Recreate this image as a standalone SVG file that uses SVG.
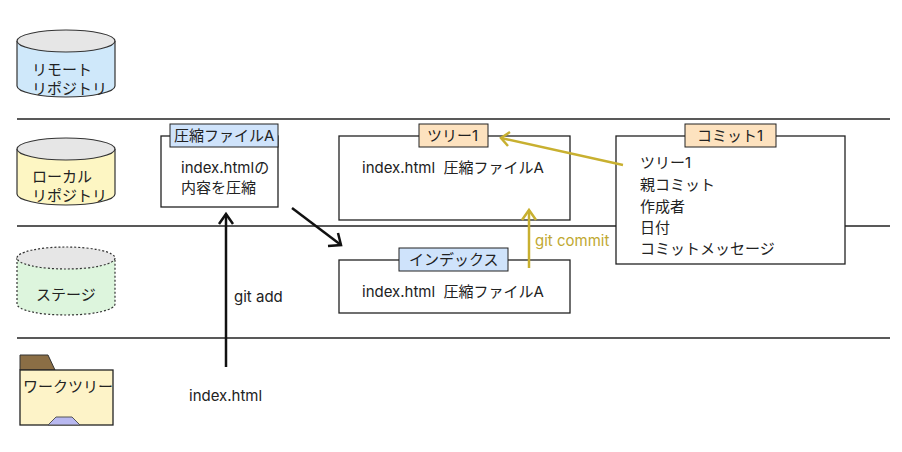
<svg xmlns="http://www.w3.org/2000/svg" width="902" height="452" viewBox="0 0 902 452">
<style>
text{font-family:Inter,"Noto Sans CJK JP",sans-serif;font-size:15px;fill:#222}
.box{fill:#fff;stroke:#222;stroke-width:1.3}
.lane{stroke:#222;stroke-width:1.3}
.blk{stroke:#111;stroke-width:2.5;fill:none}
.yel{stroke:#c8b030;stroke-width:2.5;fill:none}
.cyl{stroke:#333;stroke-width:1.2}
</style>
<rect width="902" height="452" fill="#fff"/>
<g id="lanes">
<line class="lane" x1="17" y1="119" x2="890" y2="119"/>
<line class="lane" x1="17" y1="226" x2="890" y2="226"/>
<line class="lane" x1="17" y1="338" x2="890" y2="338"/>
</g>
<g id="remote">
<path class="cyl" d="M17,41 V86 A49,11 0 0 0 115,86 V41" fill="#cfe8fa"/>
<ellipse class="cyl" cx="66" cy="41" rx="49" ry="11" fill="#e6e6e6"/>
<text x="32" y="75">リモート</text><text x="32" y="94">リポジトリ</text>
</g>
<g id="local">
<path class="cyl" d="M17,149 V194 A49,11 0 0 0 115,194 V149" fill="#fdf6c3"/>
<ellipse class="cyl" cx="66" cy="149" rx="49" ry="11" fill="#e6e6e6"/>
<text x="32" y="182">ローカル</text><text x="32" y="201">リポジトリ</text>
</g>
<g id="stage">
<path class="cyl" stroke-dasharray="2,2" d="M17,258 V304 A49,11 0 0 0 115,304 V258" fill="#ddf5dd"/>
<ellipse class="cyl" stroke-dasharray="2,2" cx="66" cy="258" rx="49" ry="11" fill="#e6e6e6"/>
<text x="36" y="300">ステージ</text>
</g>
<g id="worktree">
<path d="M20,370 V355 H48 L55,370 Z" fill="#8b6e45" stroke="#333"/>
<rect x="20" y="370" width="93" height="55" fill="#fdf3c8" stroke="#222" stroke-width="1.3"/>
<path d="M48,425 L56,417 H72 L80,425 Z" fill="#b8b8f0" stroke="#555"/>
<text x="23" y="392">ワークツリー</text>
</g>
<g id="blob">
<rect class="box" x="161" y="136" width="117" height="71"/>
<rect x="170" y="124" width="108" height="23" fill="#cfe3fb" stroke="#222"/>
<text x="174" y="141">圧縮ファイルA</text>
<text x="181" y="173">index.htmlの</text><text x="181" y="193">内容を圧縮</text>
</g>
<g id="tree">
<rect class="box" x="339" y="136" width="231" height="84"/>
<rect x="419" y="124" width="69" height="23" fill="#fde2bf" stroke="#222"/>
<text x="427" y="141">ツリー1</text>
<text x="362" y="173">index.html&#160; 圧縮ファイルA</text>
</g>
<g id="commit">
<rect class="box" x="616" y="136" width="229" height="128"/>
<rect x="685" y="124" width="91" height="23" fill="#fde2bf" stroke="#222"/>
<text x="697" y="141">コミット1</text>
<text x="640" y="168">ツリー1</text>
<text x="640" y="190">親コミット</text>
<text x="640" y="212">作成者</text>
<text x="640" y="233">日付</text>
<text x="640" y="254">コミットメッセージ</text>
</g>
<g id="index">
<rect class="box" x="339" y="260" width="231" height="53"/>
<rect x="399" y="248" width="109" height="23" fill="#cfe3fb" stroke="#222"/>
<text x="409" y="265">インデックス</text>
<text x="362" y="297">index.html&#160; 圧縮ファイルA</text>
</g>
<g id="connectors">
<line class="blk" x1="226" y1="367" x2="226" y2="214"/>
<path class="blk" d="M219,224 L226,214 L233,224"/>
<line class="blk" x1="292" y1="208" x2="341" y2="245"/>
<path class="blk" d="M328,246 L341,245 L338,233"/>
<line class="yel" x1="529" y1="268" x2="529" y2="210"/>
<path class="yel" d="M522,220 L529,210 L536,220"/>
<line class="yel" x1="623" y1="165" x2="501" y2="138"/>
<path class="yel" d="M510,132 L501,138 L508,146"/>
<text x="234" y="302">git add</text>
<text x="535" y="246" style="fill:#c0a830">git commit</text>
<text x="189" y="401">index.html</text>
</g>
</svg>
